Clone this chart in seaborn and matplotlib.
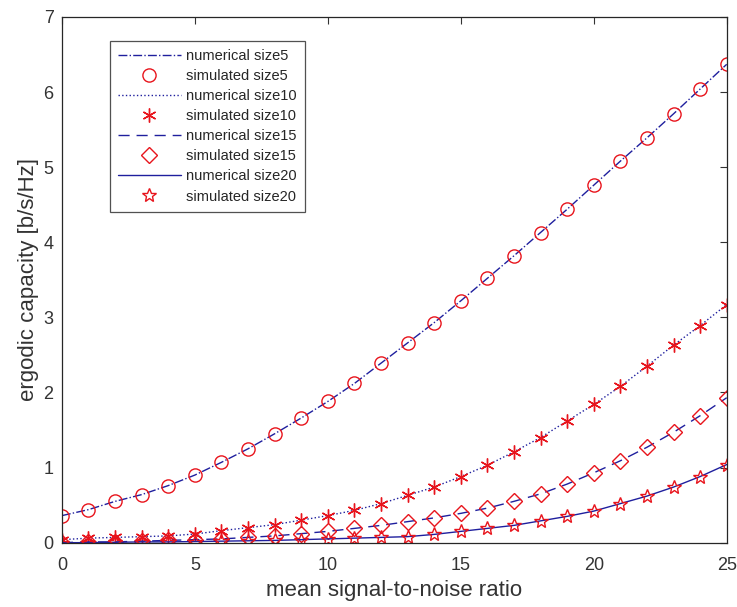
import numpy as np
import pandas as pd
import matplotlib
matplotlib.use("Agg")
import matplotlib.pyplot as plt
import seaborn as sns

snr = list(range(26))
cap_size5 = [0.36, 0.44, 0.55, 0.64, 0.76, 0.90, 1.07, 1.25, 1.45, 1.66, 1.88, 2.12, 2.39,
             2.66, 2.93, 3.22, 3.52, 3.82, 4.13, 4.44, 4.76, 5.08, 5.39, 5.71, 6.04, 6.37]
cap_size10 = [0.04, 0.06, 0.07, 0.08, 0.09, 0.115, 0.16, 0.20, 0.24, 0.30, 0.36, 0.43, 0.52,
              0.63, 0.74, 0.88, 1.03, 1.21, 1.40, 1.62, 1.84, 2.08, 2.35, 2.63, 2.89, 3.17]
cap_size15 = [0.00, 0.01, 0.01, 0.02, 0.03, 0.04, 0.05, 0.07, 0.09, 0.12, 0.15, 0.19, 0.23,
              0.28, 0.33, 0.39, 0.46, 0.55, 0.65, 0.78, 0.93, 1.09, 1.27, 1.47, 1.69, 1.93]
cap_size20 = [0.00, 0.00, 0.005, 0.01, 0.01, 0.015, 0.02, 0.025, 0.03, 0.04, 0.05, 0.06, 0.07,
              0.08, 0.11, 0.15, 0.19, 0.23, 0.29, 0.35, 0.42, 0.52, 0.62, 0.74, 0.88, 1.04]

sizes = ["size5", "size10", "size15", "size20"]
series = [cap_size5, cap_size10, cap_size15, cap_size20]
line_styles = ["-.", ":", (0, (8, 5)), "-"]
markers = ["o", (6, 2, 0), "D", "*"]
marker_sizes = [9.5, 10, 8, 10]

sns.set_theme(style="white")
plt.rcParams["font.family"] = ["Liberation Sans", "DejaVu Sans"]

fig = plt.figure(figsize=(7.37, 6.07), dpi=100)
ax = fig.add_axes([0.084, 0.106, 0.902, 0.866])

line_color = "#1f1f9e"
marker_color = "#e8141c"
handles = []
labels = []
for name, vals, ls, mk, ms in zip(sizes, series, line_styles, markers, marker_sizes):
    df = pd.DataFrame({"snr": snr, "cap": vals})
    sns.lineplot(data=df, x="snr", y="cap", ax=ax, color=line_color, linestyle=ls,
                 linewidth=1.0, label="numerical " + name)
    handles.append(ax.lines[-1]); labels.append("numerical " + name)
    sns.lineplot(data=df, x="snr", y="cap", ax=ax, color=marker_color, linestyle="none",
                 marker=mk, markersize=ms, markerfacecolor="none",
                 markeredgecolor=marker_color, markeredgewidth=1.0,
                 label="simulated " + name)
    handles.append(ax.lines[-1]); labels.append("simulated " + name)

ax.set_xlim(0, 25)
ax.set_ylim(0, 7)
ax.set_xticks([0, 5, 10, 15, 20, 25])
ax.set_yticks(range(8))
ax.tick_params(direction="in", top=True, right=True, length=5, width=0.8,
               labelsize=13, colors="#333333")
ax.tick_params(axis="x", pad=10)
ax.tick_params(axis="y", pad=6)
for sp in ax.spines.values():
    sp.set_color("#262626")
    sp.set_linewidth(0.9)
ax.set_xlabel("mean signal-to-noise ratio", fontsize=16, color="#333333", labelpad=5)
ax.set_ylabel("ergodic capacity [b/s/Hz]", fontsize=16, color="#333333", labelpad=3)

leg = ax.legend(handles, labels, loc="upper left", bbox_to_anchor=(0.072, 0.955),
                fontsize=10.5, frameon=True, fancybox=False, edgecolor="#262626",
                handlelength=4.3, handletextpad=0.4, labelspacing=0.42, borderpad=0.55,
                borderaxespad=0)
leg.get_frame().set_linewidth(0.9)
for t in leg.get_texts():
    t.set_color("#262626")

fig.savefig("out.png", dpi=100)
